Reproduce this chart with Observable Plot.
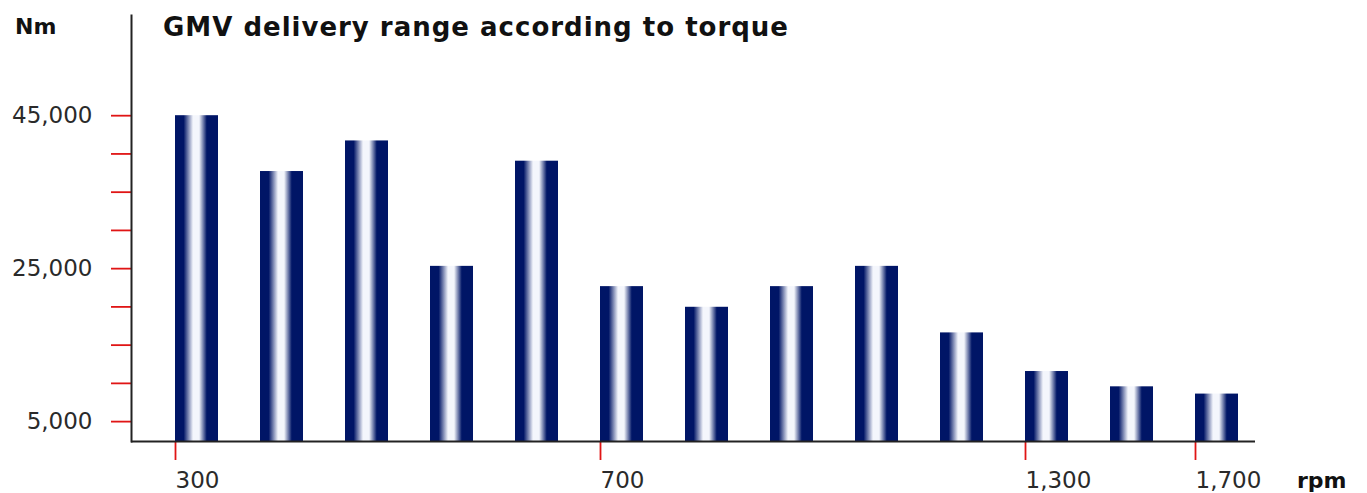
<!DOCTYPE html>
<html>
<head>
<meta charset="utf-8">
<script src="https://cdn.jsdelivr.net/npm/d3@7"></script>
<script src="https://cdn.jsdelivr.net/npm/@observablehq/plot@0.6"></script>
<style>
  html, body { margin: 0; padding: 0; background: #fff; }
  #wrap { position: relative; width: 1367px; height: 493px; overflow: hidden; font-family: "DejaVu Sans", Verdana, sans-serif; }
  #wrap svg { position: absolute; left: 0; top: 0; }
  .lbl { position: absolute; font-weight: bold; color: #111; white-space: nowrap; line-height: 1; }
  #title { left: 163px; top: 14px; font-size: 26px; letter-spacing: 1px; }
  #ylab { left: 15px; top: 16px; font-size: 22px; }
  #xlab { left: 1297px; top: 470px; font-size: 22px; }
</style>
</head>
<body>
<div id="wrap">
  <div class="lbl" id="title">GMV delivery range according to torque</div>
  <div class="lbl" id="ylab">Nm</div>
  <div class="lbl" id="xlab">rpm</div>
</div>
<script>
// Data
const rpm = [300, 380, 460, 540, 620, 700, 820, 940, 1060, 1180, 1300, 1500, 1700];
const torque = [45000, 37700, 41700, 25300, 39050, 22650, 19950, 22650, 25300, 16600, 11550, 9550, 8600];
const xTickValues = [300, 700, 1300, 1700];
const yTickValues = [5000, 10000, 15000, 20000, 25000, 30000, 35000, 40000, 45000];
const yTickLabels = [5000, 25000, 45000];
const yDomain = [2400, 58100];

const data = rpm.map((r, i) => ({rpm: r, torque: torque[i]}));
const red = "#e01515";
const fmt = d3.format(",");

const chart = Plot.plot({
  width: 1367,
  height: 493,
  marginLeft: 131,
  marginRight: 112,
  marginTop: 15,
  marginBottom: 52,
  style: {fontFamily: "DejaVu Sans, Verdana, sans-serif", background: "transparent", overflow: "visible"},
  x: {type: "band", domain: rpm, paddingInner: 0.495, paddingOuter: 0.3525, align: 0.717},
  y: {domain: yDomain},
  marks: [
    Plot.barY(data, {x: "rpm", y: "torque", fill: "url(#barGrad)", clip: true}),
    Plot.axisY({ticks: yTickValues, tickSize: 20, tickPadding: 19, stroke: red, strokeWidth: 1.8, fill: "#2a2a2a",
      fontSize: 23, tickFormat: d => yTickLabels.includes(d) ? fmt(d) : "", label: null}),
    Plot.axisX({ticks: xTickValues, tickSize: 19, tickPadding: 11, stroke: red, strokeWidth: 1.8, fill: "#2a2a2a",
      fontSize: 23, textAnchor: "start", dx: -21.5, tickFormat: d => fmt(d), label: null}),
    Plot.ruleY([yDomain[0]], {stroke: "#222", strokeWidth: 2}),
    Plot.frame({anchor: "left", stroke: "#222", strokeWidth: 2})
  ]
});

// gradient for the bars
const ns = "http://www.w3.org/2000/svg";
const defs = document.createElementNS(ns, "defs");
const grad = document.createElementNS(ns, "linearGradient");
grad.setAttribute("id", "barGrad");
grad.setAttribute("x1", "0"); grad.setAttribute("x2", "1");
grad.setAttribute("y1", "0"); grad.setAttribute("y2", "0");
[[0, "#001566"], [0.2, "#001566"], [0.42, "#f4f6fc"], [0.56, "#f4f6fc"], [0.74, "#001566"], [1, "#001566"]].forEach(([o, c]) => {
  const s = document.createElementNS(ns, "stop");
  s.setAttribute("offset", o);
  s.setAttribute("stop-color", c);
  grad.appendChild(s);
});
defs.appendChild(grad);
chart.insertBefore(defs, chart.firstChild);

document.getElementById("wrap").appendChild(chart);
</script>
</body>
</html>
